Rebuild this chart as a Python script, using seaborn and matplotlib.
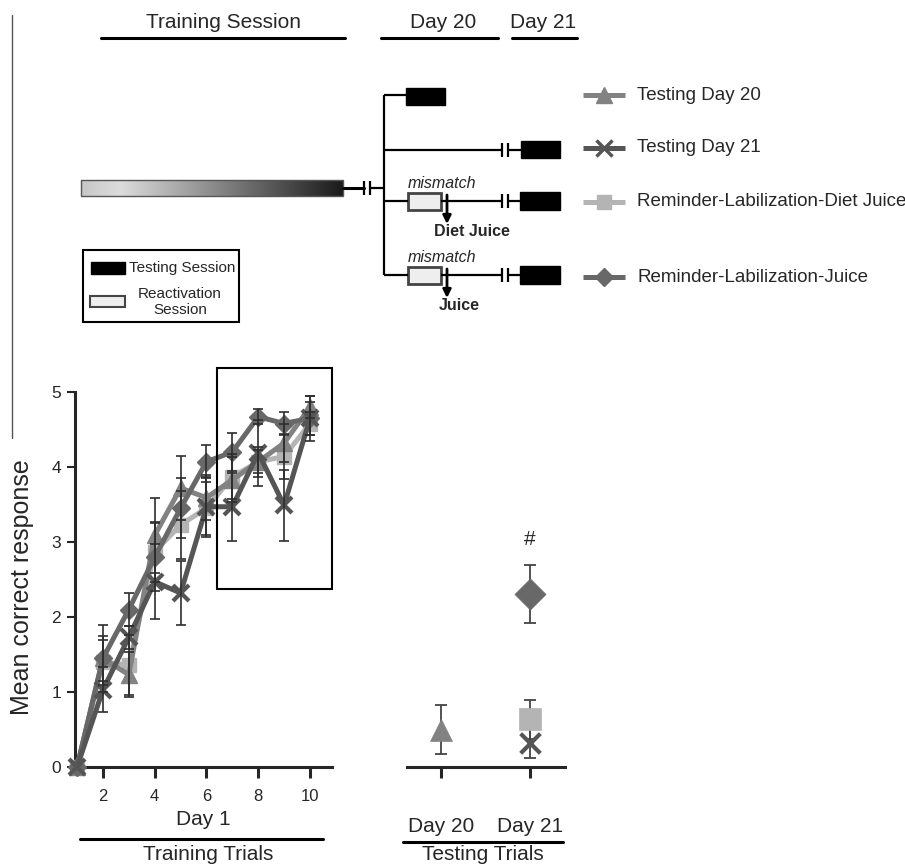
import numpy as np
import pandas as pd
import matplotlib
matplotlib.use('Agg')
import matplotlib.pyplot as plt
import seaborn as sns
from matplotlib.patches import Rectangle

# %%
# Data

trials = [1, 2, 3, 4, 5, 6, 7, 8, 9, 10]
groups = ['Testing Day 20', 'Testing Day 21',
          'Reminder-Labilization-Diet Juice', 'Reminder-Labilization-Juice']

day20_mean = [0, 1.45, 1.23, 3.09, 3.72, 3.59, 3.83, 4.07, 4.32, 4.80]
day20_sem = [0, 0.30, 0.30, 0.50, 0.43, 0.30, 0.30, 0.20, 0.25, 0.15]
day21_mean = [0, 1.03, 1.73, 2.47, 2.32, 3.47, 3.47, 4.19, 3.49, 4.65]
day21_sem = [0, 0.30, 0.15, 0.50, 0.43, 0.40, 0.45, 0.44, 0.47, 0.30]
diet_mean = [0, 1.40, 1.36, 2.87, 3.23, 3.45, 3.87, 4.07, 4.14, 4.58]
diet_sem = [0, 0.30, 0.40, 0.40, 0.45, 0.35, 0.30, 0.15, 0.30, 0.15]
juice_mean = [0, 1.45, 2.10, 2.80, 3.45, 4.07, 4.20, 4.67, 4.58, 4.65]
juice_sem = [0, 0.45, 0.22, 0.45, 0.40, 0.22, 0.25, 0.10, 0.15, 0.22]

test_days = ['Day 20', 'Day 21']
test_group_day = [1, 2, 2, 2]
test_mean = [0.50, 0.32, 0.64, 2.31]
test_sem = [0.33, 0.20, 0.26, 0.39]

# %%
# Long tables

train = pd.DataFrame({
    'trial': trials * 4,
    'group': np.repeat(groups, len(trials)),
    'score': day20_mean + day21_mean + diet_mean + juice_mean,
    'sem': day20_sem + day21_sem + diet_sem + juice_sem})

test = pd.DataFrame({'group': groups, 'day': test_group_day,
                     'score': test_mean, 'sem': test_sem})

colors = {groups[0]: '#828282', groups[1]: '#555555',
          groups[2]: '#b4b4b4', groups[3]: '#686868'}
markers = {groups[0]: '^', groups[1]: 'x', groups[2]: 's', groups[3]: 'D'}
msize = {groups[0]: 11, groups[1]: 11, groups[2]: 10, groups[3]: 9}
draw_order = [groups[2], groups[0], groups[3], groups[1]]

# %%

sns.set_style('ticks')
plt.rcParams['font.family'] = ['Liberation Sans', 'DejaVu Sans']

fig = plt.figure(figsize=(9.05, 8.65), dpi=100)

ax = fig.add_axes([75 / 905, 98 / 865, 257 / 905, 405 / 865])
ax2 = fig.add_axes([407 / 905, 98 / 865, 158 / 905, 405 / 865])

for g in draw_order:
    d = train[train.group == g]
    sns.lineplot(data=d, x='trial', y='score', ax=ax, color=colors[g],
                 lw=3.6, marker=markers[g], markersize=msize[g],
                 mec=colors[g], mew=3 if g == groups[1] else 1,
                 clip_on=False, legend=False, zorder=3)
    e = d[d['sem'] > 0]
    ax.errorbar(e.trial, e.score, yerr=e['sem'], fmt='none',
                ecolor='#2e2e2e', elinewidth=1.2, capsize=3.5,
                capthick=1.2, zorder=4, clip_on=False)

ax.add_patch(Rectangle((6.4, 2.37), 4.45, 2.95, fill=False, ec='black',
                       lw=1.5, clip_on=False, zorder=5))

ax.set_xlim(0.92, 10.85)
ax.set_ylim(0, 5.4)
ax.set_xticks([2, 4, 6, 8, 10])
ax.set_yticks([0, 1, 2, 3, 4, 5])
ax.tick_params(axis='x', length=8, width=2.2, labelsize=12, pad=8)
ax.tick_params(axis='y', length=6, width=1.5, labelsize=12.5, pad=4)
sns.despine(ax=ax)
ax.spines['left'].set_bounds(0, 5)
ax.spines['left'].set_linewidth(2.2)
ax.spines['bottom'].set_linewidth(2.2)
ax.set_xlabel('Day 1', fontsize=15, labelpad=4)
ax.set_ylabel('Mean correct response', fontsize=18)
ax.yaxis.set_label_coords(-0.16, 0.444)

# Testing panel
for g in draw_order:
    d = test[test.group == g]
    ax2.errorbar(d.day, d.score, yerr=d['sem'], fmt='none',
                 ecolor='#444444', elinewidth=1.3, capsize=4, capthick=1.3,
                 zorder=2)
    sns.scatterplot(data=d, x='day', y='score', ax=ax2, color=colors[g],
                    marker=markers[g], s=250 if g != groups[1] else 200,
                    ec=colors[g] if g != groups[1] else None,
                    linewidth=3 if g == groups[1] else 0.5,
                    legend=False, zorder=3, clip_on=False)

ax2.text(2, 3.03, '#', ha='center', va='center', fontsize=15)
ax2.set_xlim(0.618, 2.393)
ax2.set_ylim(0, 5.4)
ax2.set_xticks([1, 2])
ax2.set_xticklabels(test_days, fontsize=15)
ax2.tick_params(axis='x', length=8, width=2.2, pad=28)
ax2.set_yticks([])
ax2.set_xlabel('')
ax2.set_ylabel('')
sns.despine(ax=ax2, left=True)
ax2.spines['bottom'].set_linewidth(2.2)

# %%
# Schematic overlay in pixel units

ov = fig.add_axes([0, 0, 1, 1])
ov.axis('off')

k = dict(color='black', lw=1.6, solid_capstyle='butt')

ov.plot([12, 12], [15, 438], color='#555555', lw=1)

# headers
ov.text(223, 23, 'Training Session', ha='center', va='center', fontsize=15)
ov.plot([101, 345], [38, 38], color='black', lw=2.2)
ov.text(443, 23, 'Day 20', ha='center', va='center', fontsize=15)
ov.plot([381, 498], [38, 38], color='black', lw=2.2)
ov.text(543, 23, 'Day 21', ha='center', va='center', fontsize=15)
ov.plot([512, 577], [38, 38], color='black', lw=2.2)

# training bar
shade = np.interp(np.linspace(0, 1, 300), [0, 0.15, 1], [0.78, 0.86, 0.1])
ov.imshow(shade[None, :], extent=(81, 343, 196, 180), cmap='gray',
          vmin=0, vmax=1, aspect='auto', interpolation='bilinear')
ov.add_patch(Rectangle((81, 180), 262, 16, fill=False, ec='#555555', lw=1))


def gap(x, y):
    ov.plot([x, x], [y - 7, y + 7], **k)
    ov.plot([x + 6, x + 6], [y - 7, y + 7], **k)


ov.plot([343, 364], [188, 188], color='black', lw=2.2)
gap(364, 188)
ov.plot([370, 384], [188, 188], **k)
ov.plot([384, 384], [95, 275], **k)

# row 1
ov.plot([384, 406], [95, 95], **k)
ov.add_patch(Rectangle((406, 88), 39, 17, fc='black', ec='black'))
# row 2
ov.plot([384, 502], [150, 150], **k)
gap(502, 150)
ov.plot([508, 521], [150, 150], **k)
ov.add_patch(Rectangle((521, 141), 39, 17, fc='black', ec='black'))
# rows 3 and 4
for y, lab, lx in [(201, 'Diet Juice', 472), (275, 'Juice', 459)]:
    ov.plot([384, 408], [y, y], **k)
    ov.add_patch(Rectangle((408, y - 8.5), 33, 17, fc='#eeeeee',
                           ec='#444444', lw=2))
    ov.plot([441, 502], [y, y], **k)
    gap(502, y)
    ov.plot([508, 521], [y, y], **k)
    ov.add_patch(Rectangle((520, y - 9), 40, 18, fc='black', ec='black'))
    ov.annotate('', xy=(447, y + 23), xytext=(447, y - 6),
                arrowprops=dict(arrowstyle='-|>', color='black', lw=2,
                                mutation_scale=12, shrinkA=0, shrinkB=0))
    ov.text(442, y - 18, 'mismatch', ha='center', va='center',
            fontsize=11.5, style='italic')
    ov.text(lx, y + 31, lab, ha='center', va='center', fontsize=11.5,
            fontweight='bold')

# key box
ov.add_patch(Rectangle((83, 250), 156, 72, fill=False, ec='black', lw=1.5))
ov.add_patch(Rectangle((91, 262), 34, 12, fc='black', ec='black'))
ov.text(129, 268, 'Testing Session', ha='left', va='center', fontsize=11)
ov.add_patch(Rectangle((90, 296), 35, 11, fc='#eeeeee', ec='#444444',
                       lw=1.5))
ov.text(180, 302, 'Reactivation\nSession', ha='center', va='center',
        fontsize=11, linespacing=1.15)

# group legend
for g, y in zip(groups, [95, 148, 202, 277]):
    ov.plot([583, 625], [y, y], color=colors[g], lw=3.6,
            solid_capstyle='butt')
    ov.plot([604], [y], color=colors[g], marker=markers[g],
            markersize=msize[g], mec=colors[g],
            mew=2.5 if g == groups[1] else 1)
    ov.text(637, y, g, ha='left', va='center', fontsize=13.5)

# bottom group labels
ov.plot([80, 323], [839, 839], color='black', lw=2.2)
ov.text(208, 855, 'Training Trials', ha='center', va='center', fontsize=15)
ov.plot([403, 563], [842, 842], color='black', lw=2.2)
ov.text(483, 855, 'Testing Trials', ha='center', va='center', fontsize=15)

ov.set_xlim(0, 905)
ov.set_ylim(865, 0)

fig.savefig('out.png', dpi=100)
